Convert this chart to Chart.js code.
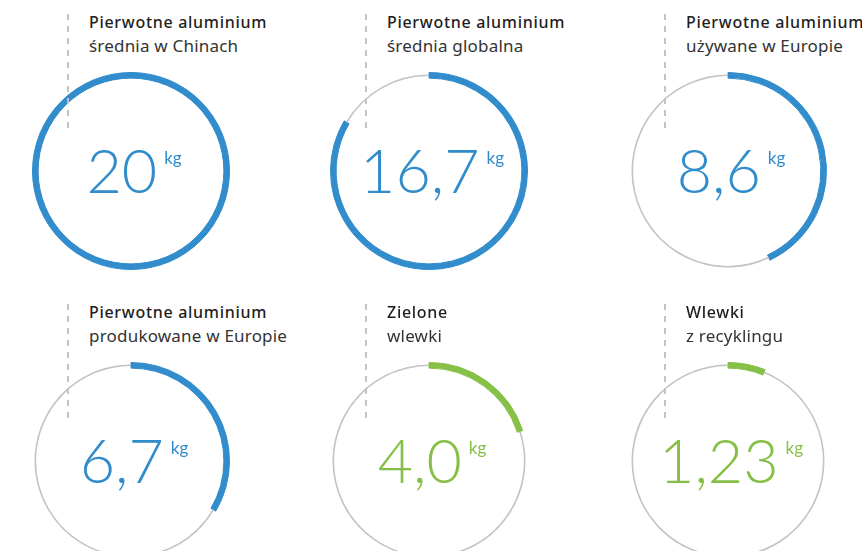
<!DOCTYPE html>
<html lang="pl">
<head>
<meta charset="utf-8">
<script src="https://cdn.jsdelivr.net/npm/chart.js@4"></script>
<style>
    html, body { margin: 0; padding: 0; background: #fff; }
    #wrap { position: relative; width: 862px; height: 551px; overflow: hidden; font-family: "Noto Sans", Lato, sans-serif; }
    .ring { position: absolute; }
    .dash { position: absolute; width: 2px; height: 120px; background: repeating-linear-gradient(to bottom, #c4c4c6 0 6px, transparent 6px 12px); }
    .title { position: absolute; white-space: nowrap; line-height: 24px; color: #1e1e1e; }
    .title b { font-weight: 500; font-size: 16px; letter-spacing: 0.7px; display: block; }
    .title span { display: block; font-size: 17px; color: #333; letter-spacing: 0.2px; }
</style>
</head>
<body>
<div id="wrap"></div>
<script>
const titles = ['Pierwotne aluminium', 'Pierwotne aluminium', 'Pierwotne aluminium', 'Pierwotne aluminium', 'Zielone', 'Wlewki'];
const subtitles = ['średnia w Chinach', 'średnia globalna', 'używane w Europie', 'produkowane w Europie', 'wlewki', 'z recyklingu'];
const values = [20, 16.7, 8.6, 6.7, 4.0, 1.23];
const valueLabels = ['20', '16,7', '8,6', '6,7', '4,0', '1,23'];
const maxValue = 20;
const unit = 'kg';

const BLUE = '#318ccc';
const GREEN = '#86bf45';
const GRAY = '#c3c3c5';
const colors = [BLUE, BLUE, BLUE, BLUE, GREEN, GREEN];

const centersX = [131, 429, 728];
const centersY = [171, 461];
const SIZE = 198;

// number + "kg" drawn in the middle of each ring
const centerText = {
    id: 'centerText',
    afterDraw(chart, args, opts) {
        const arc = chart.getDatasetMeta(0).data[0];
        const ctx = chart.ctx;
        const big = '300 61px Lato, "Noto Sans", sans-serif';
        const small = '400 17px Lato, "Noto Sans", sans-serif';
        ctx.save();
        ctx.fillStyle = opts.color;
        ctx.textBaseline = 'alphabetic';
        ctx.font = big;
        const w = ctx.measureText(opts.text).width;
        ctx.font = small;
        const wu = ctx.measureText(unit).width;
        const gap = 7;
        const x0 = arc.x - (w + gap + wu) / 2 + 3;
        ctx.font = big;
        ctx.fillText(opts.text, x0, arc.y + 22);
        ctx.font = small;
        ctx.fillText(unit, x0 + w + gap, arc.y - 7);
        ctx.restore();
    }
};

const wrap = document.getElementById('wrap');

values.forEach((v, i) => {
    const cx = centersX[i % 3], cy = centersY[Math.floor(i / 3)];
    const rest = Math.max(maxValue - v, 0);
    const c = colors[i];
    const clear = 'rgba(0,0,0,0)';

    const dash = document.createElement('div');
    dash.className = 'dash';
    dash.style.left = (cx - 64) + 'px';
    dash.style.top = (cy - 157) + 'px';

    const canvas = document.createElement('canvas');
    canvas.className = 'ring';
    canvas.width = SIZE; canvas.height = SIZE;
    canvas.style.left = (cx - SIZE / 2) + 'px';
    canvas.style.top = (cy - SIZE / 2) + 'px';

    const t = document.createElement('div');
    t.className = 'title';
    t.style.left = (cx - 42) + 'px';
    t.style.top = (cy - 161) + 'px';
    t.innerHTML = `<b>${titles[i]}</b><span>${subtitles[i]}</span>`;

    wrap.appendChild(canvas);
    wrap.appendChild(dash);
    wrap.appendChild(t);

    // three stacked rings: thick coloured arc, thin grey remainder in the middle one
    new Chart(canvas.getContext('2d'), {
        type: 'doughnut',
        data: {
            labels: ['wartość', 'reszta'],
            datasets: [
                { data: [v, rest], backgroundColor: [c, clear], borderColor: [c, clear], weight: 2 },
                { data: [v, rest], backgroundColor: [c, GRAY], borderColor: [c, clear], weight: 1.6 },
                { data: [v, rest], backgroundColor: [c, clear], borderColor: [c, clear], weight: 2 }
            ]
        },
        options: {
            responsive: false,
            animation: false,
            events: [],
            cutout: '94.3%',
            borderWidth: 1,
            layout: { padding: 0 },
            plugins: { legend: { display: false }, tooltip: { enabled: false }, centerText: { text: valueLabels[i], color: c } }
        },
        plugins: [centerText]
    });
});
</script>
</body>
</html>
